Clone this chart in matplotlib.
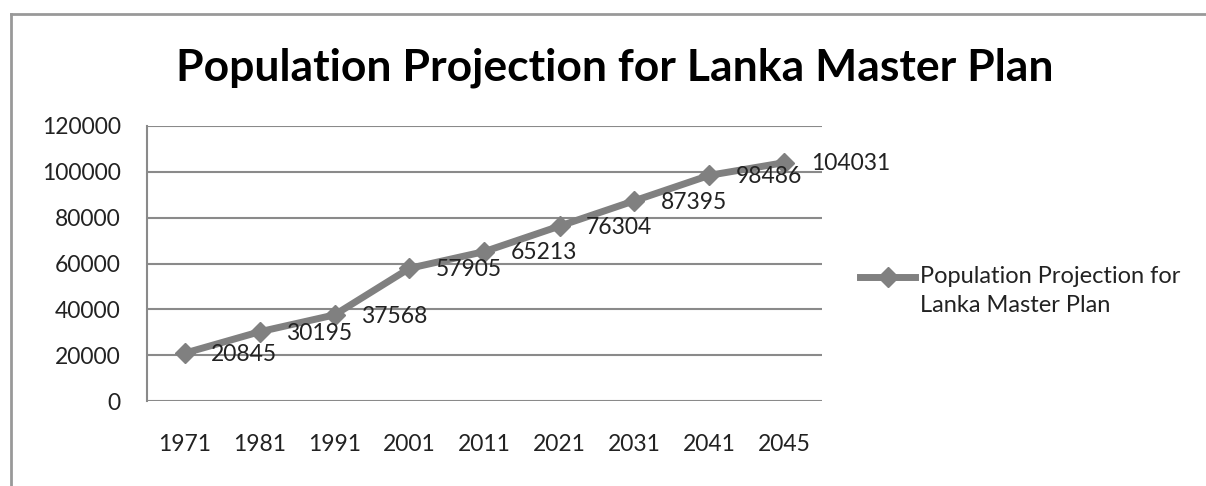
import matplotlib.pyplot as plt
from matplotlib.lines import Line2D

years = ["1971", "1981", "1991", "2001", "2011", "2021", "2031", "2041", "2045"]
population = [20845, 30195, 37568, 57905, 65213, 76304, 87395, 98486, 104031]
y_ticks = [0, 20000, 40000, 60000, 80000, 100000, 120000]
series_name = "Population Projection for\nLanka Master Plan"
title = "Population Projection for Lanka Master Plan"

plt.rcParams["font.family"] = ["Lato", "DejaVu Sans"]
grey = "#808080"

fig = plt.figure(figsize=(12.06, 4.86), dpi=100)
ax = fig.add_axes([147 / 1206, 85 / 486, 675 / 1206, 275 / 486])

x = list(range(len(years)))
ax.plot(x, population, color=grey, linewidth=5, marker="D", markersize=10,
        markeredgecolor=grey, markerfacecolor=grey, zorder=3)

for xi, v in zip(x, population):
    ax.annotate(str(v), (xi, v), xytext=(19, -1), textcoords="offset points",
                ha="left", va="center", fontsize=16.5, color="#222222", zorder=4)

ax.set_xlim(-0.5, len(years) - 0.5)
ax.set_ylim(0, 120000)
ax.set_yticks(y_ticks)
ax.set_yticklabels([str(t) for t in y_ticks])
ax.set_xticks(x)
ax.set_xticklabels(years)
ax.tick_params(length=0, labelsize=16.5, labelcolor="#222222")
ax.tick_params(axis="y", pad=19)
ax.tick_params(axis="x", pad=24)
ax.grid(axis="y", color="#8a8a8a", linewidth=1.5)
ax.set_axisbelow(True)
for s in ["top", "right", "bottom"]:
    ax.spines[s].set_visible(False)
ax.spines["left"].set_color("#8a8a8a")
ax.spines["left"].set_linewidth(1.5)

fig.text(615 / 1206, 1 - 68 / 486, title, ha="center", va="center",
         fontsize=32, fontweight="bold", color="black")

# legend entry: handle sits on the first text line, like Excel
W, H = 1206, 486
fig.add_artist(Line2D([860 / W, 915 / W], [1 - 277 / H] * 2, color=grey, linewidth=5))
fig.add_artist(Line2D([888 / W], [1 - 277 / H], color=grey, marker="D", markersize=10,
                      linestyle="none"))
fig.text(920 / W, 1 - 266 / H, series_name, ha="left", va="top", fontsize=17,
         color="#222222", linespacing=1.45)

# outer chart border (top and left visible)
fig.add_artist(Line2D([11 / W, 1.01], [1 - 14 / H, 1 - 14 / H], color="#999999", linewidth=2))
fig.add_artist(Line2D([11 / W, 11 / W], [-0.01, 1 - 14 / H], color="#999999", linewidth=2))

fig.savefig("out.png", dpi=100, facecolor="white")
